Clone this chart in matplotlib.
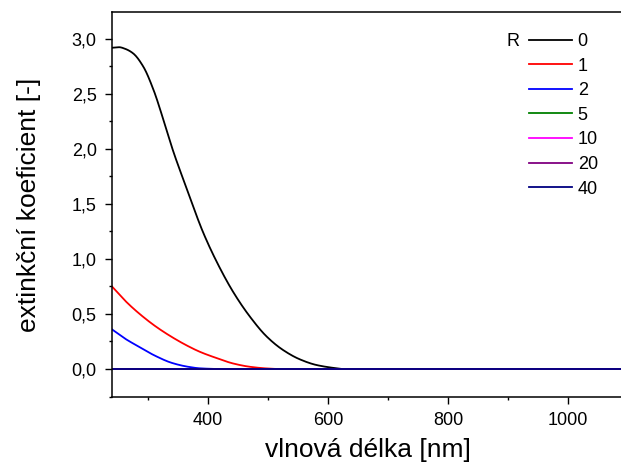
import numpy as np
import matplotlib
matplotlib.use("Agg")
import matplotlib.pyplot as plt
from matplotlib.ticker import MultipleLocator, FuncFormatter

plt.rcParams['font.family'] = ['Liberation Sans', 'DejaVu Sans']

# values
wl_r0 = [240, 252, 262, 275, 292, 309, 326, 342, 359, 375, 392, 414, 442, 470, 498, 525, 553, 581, 609, 625, 700, 1100]
ext_r0 = [2.92, 2.925, 2.91, 2.87, 2.75, 2.54, 2.26, 1.98, 1.72, 1.48, 1.24, 0.98, 0.70, 0.475, 0.294, 0.173, 0.088, 0.036, 0.010, 0.0, 0.0, 0.0]

wl_r1 = [240, 262, 284, 312, 340, 366, 387, 414, 442, 470, 498, 520, 1100]
ext_r1 = [0.75, 0.62, 0.51, 0.39, 0.29, 0.21, 0.155, 0.10, 0.05, 0.02, 0.005, 0.0, 0.0]

wl_r2 = [240, 262, 284, 312, 340, 367, 387, 420, 1100]
ext_r2 = [0.36, 0.275, 0.205, 0.12, 0.055, 0.02, 0.006, 0.0, 0.0]

wl_flat = [240, 1100]
ext_flat = [0.0, 0.0]

r_labels = ['0', '1', '2', '5', '10', '20', '40']
colors = ['black', 'red', 'blue', 'green', 'magenta', 'purple', 'navy']

series = [
    (wl_r0, ext_r0),
    (wl_r1, ext_r1),
    (wl_r2, ext_r2),
    (wl_flat, ext_flat),
    (wl_flat, ext_flat),
    (wl_flat, ext_flat),
    (wl_flat, ext_flat),
]


def pchip(x, y, xs):
    # monotone cubic (Fritsch-Carlson) to draw smooth curves through the read points
    x = np.asarray(x, float)
    y = np.asarray(y, float)
    h = np.diff(x)
    d = np.diff(y) / h
    n = len(x)
    m = np.zeros(n)
    if n > 2:
        for k in range(1, n - 1):
            if d[k - 1] * d[k] > 0:
                w1 = 2 * h[k] + h[k - 1]
                w2 = h[k] + 2 * h[k - 1]
                m[k] = (w1 + w2) / (w1 / d[k - 1] + w2 / d[k])
    m[0] = d[0]
    m[-1] = d[-1]
    i = np.clip(np.searchsorted(x, xs) - 1, 0, n - 2)
    t = (xs - x[i]) / h[i]
    h00 = 2 * t**3 - 3 * t**2 + 1
    h10 = t**3 - 2 * t**2 + t
    h01 = -2 * t**3 + 3 * t**2
    h11 = t**3 - t**2
    return h00 * y[i] + h10 * h[i] * m[i] + h01 * y[i + 1] + h11 * h[i] * m[i + 1]


fig = plt.figure(figsize=(6.21, 4.75), dpi=100)
ax = fig.add_axes([112 / 621, 1 - 397 / 475, 511 / 621, 385 / 475])

for (x, y), lab, c in zip(series, r_labels, colors):
    xs = np.linspace(x[0], x[-1], 800)
    ax.plot(xs, pchip(x, y, xs), color=c, lw=1.3, label=lab)

ax.set_xlim(240, 1091.7)
ax.set_ylim(-0.2545, 3.245)
ax.xaxis.set_major_locator(MultipleLocator(200))
ax.xaxis.set_minor_locator(MultipleLocator(100))
ax.yaxis.set_major_locator(MultipleLocator(0.5))
ax.yaxis.set_minor_locator(MultipleLocator(0.25))
ax.yaxis.set_major_formatter(FuncFormatter(lambda v, p: f"{v:.1f}".replace('.', ',')))
ax.tick_params(which='major', direction='out', length=5, width=1, labelsize=13, pad=6)
ax.tick_params(which='minor', direction='out', length=2.5, width=1)
ax.spines['right'].set_visible(False)
for s in ['left', 'bottom', 'top']:
    ax.spines[s].set_linewidth(1.1)

ax.set_xlabel('vlnová délka [nm]', fontsize=19, labelpad=6)
ax.set_ylabel('extinkční koeficient [-]', fontsize=19, labelpad=22)

leg = ax.legend(loc='upper left', bbox_to_anchor=(529 / 621, 1 - 33 / 475),
                bbox_transform=fig.transFigure, frameon=False, fontsize=13,
                handlelength=2.4, handletextpad=0.3, labelspacing=0.42,
                borderpad=0, borderaxespad=0)
fig.text(506 / 621, 1 - 42 / 475, 'R', fontsize=13, va='center', ha='left')

fig.savefig('out.png', dpi=100)
